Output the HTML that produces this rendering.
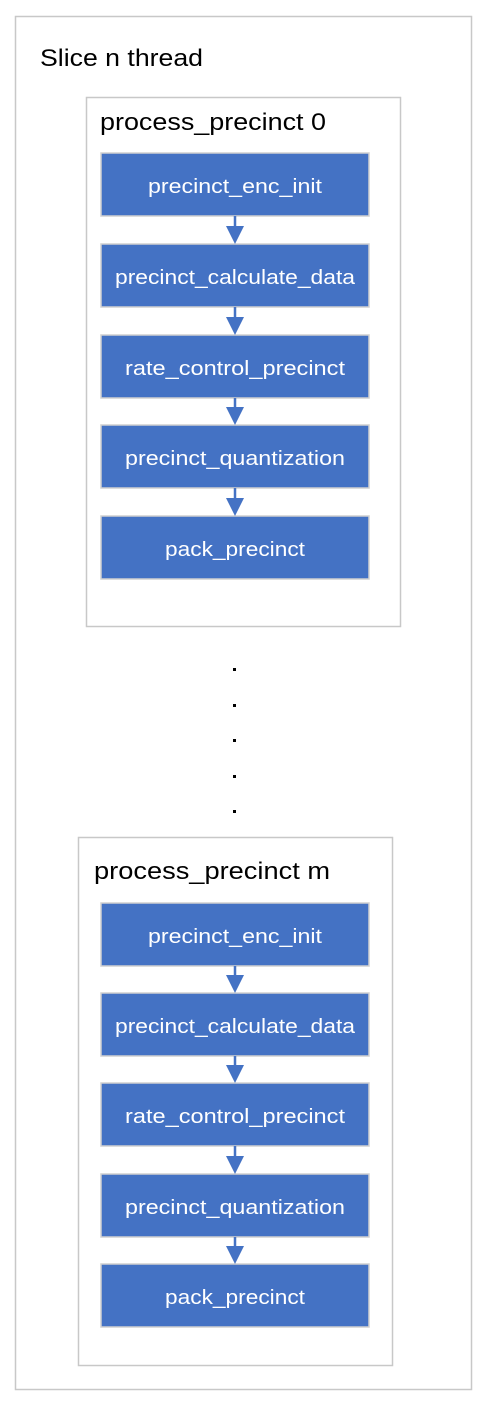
<!DOCTYPE html>
<html><head><meta charset="utf-8"><style>
html,body{margin:0;padding:0;background:#fff;}
svg{display:block;}
text{font-family:"Liberation Sans",sans-serif;}
</style></head><body>
<svg width="484" height="1405" viewBox="0 0 484 1405" xmlns="http://www.w3.org/2000/svg">
<rect x="15.5" y="16.5" width="456" height="1373" fill="#fff" stroke="#c8c8c8" stroke-width="1.5"/>
<text x="40" y="66" font-size="24" fill="#000" textLength="163" lengthAdjust="spacingAndGlyphs">Slice n thread</text>

<rect x="86.5" y="97.5" width="314" height="529" fill="#fff" stroke="#c8c8c8" stroke-width="1.5"/>
<text x="100" y="130" font-size="24" fill="#000" textLength="226" lengthAdjust="spacingAndGlyphs">process_precinct 0</text>

<rect x="78.5" y="837.5" width="314" height="528" fill="#fff" stroke="#c8c8c8" stroke-width="1.5"/>
<text x="94" y="879" font-size="24" fill="#000" textLength="236" lengthAdjust="spacingAndGlyphs">process_precinct m</text>

<g stroke="#d0d0d0" stroke-width="1.5" fill="#4472C4">
<rect x="101" y="153" width="268" height="63"/>
<rect x="101" y="244" width="268" height="63"/>
<rect x="101" y="335" width="268" height="63"/>
<rect x="101" y="425" width="268" height="63"/>
<rect x="101" y="516" width="268" height="63"/>
<rect x="101" y="903" width="268" height="63"/>
<rect x="101" y="993" width="268" height="63"/>
<rect x="101" y="1083" width="268" height="63"/>
<rect x="101" y="1174" width="268" height="63"/>
<rect x="101" y="1264" width="268" height="63"/>
</g>
<g stroke="#4472C4" stroke-width="2.5">
<line x1="235" y1="216" x2="235" y2="232"/>
<line x1="235" y1="307" x2="235" y2="323"/>
<line x1="235" y1="398" x2="235" y2="413"/>
<line x1="235" y1="488" x2="235" y2="504"/>
<line x1="235" y1="966" x2="235" y2="981"/>
<line x1="235" y1="1056" x2="235" y2="1071"/>
<line x1="235" y1="1146" x2="235" y2="1162"/>
<line x1="235" y1="1237" x2="235" y2="1252"/>
</g>
<g fill="#4472C4">
<polygon points="226,226 244,226 235,244"/>
<polygon points="226,317 244,317 235,335"/>
<polygon points="226,407 244,407 235,425"/>
<polygon points="226,498 244,498 235,516"/>
<polygon points="226,975 244,975 235,993"/>
<polygon points="226,1065 244,1065 235,1083"/>
<polygon points="226,1156 244,1156 235,1174"/>
<polygon points="226,1246 244,1246 235,1264"/>
</g>
<g font-size="20" fill="#fff" text-anchor="middle" lengthAdjust="spacingAndGlyphs">
<text x="235" y="193" textLength="174" lengthAdjust="spacingAndGlyphs">precinct_enc_init</text>
<text x="235" y="284" textLength="240" lengthAdjust="spacingAndGlyphs">precinct_calculate_data</text>
<text x="235" y="375" textLength="220" lengthAdjust="spacingAndGlyphs">rate_control_precinct</text>
<text x="235" y="465" textLength="220" lengthAdjust="spacingAndGlyphs">precinct_quantization</text>
<text x="235" y="556" textLength="140" lengthAdjust="spacingAndGlyphs">pack_precinct</text>
<text x="235" y="943" textLength="174" lengthAdjust="spacingAndGlyphs">precinct_enc_init</text>
<text x="235" y="1033" textLength="240" lengthAdjust="spacingAndGlyphs">precinct_calculate_data</text>
<text x="235" y="1123" textLength="220" lengthAdjust="spacingAndGlyphs">rate_control_precinct</text>
<text x="235" y="1214" textLength="220" lengthAdjust="spacingAndGlyphs">precinct_quantization</text>
<text x="235" y="1304" textLength="140" lengthAdjust="spacingAndGlyphs">pack_precinct</text>
</g>
<g fill="#000">
<rect x="233" y="668" width="3" height="3"/>
<rect x="233" y="704" width="3" height="3"/>
<rect x="233" y="739" width="3" height="3"/>
<rect x="233" y="775" width="3" height="3"/>
<rect x="233" y="810" width="3" height="3"/>
</g>
</svg>
</body></html>
